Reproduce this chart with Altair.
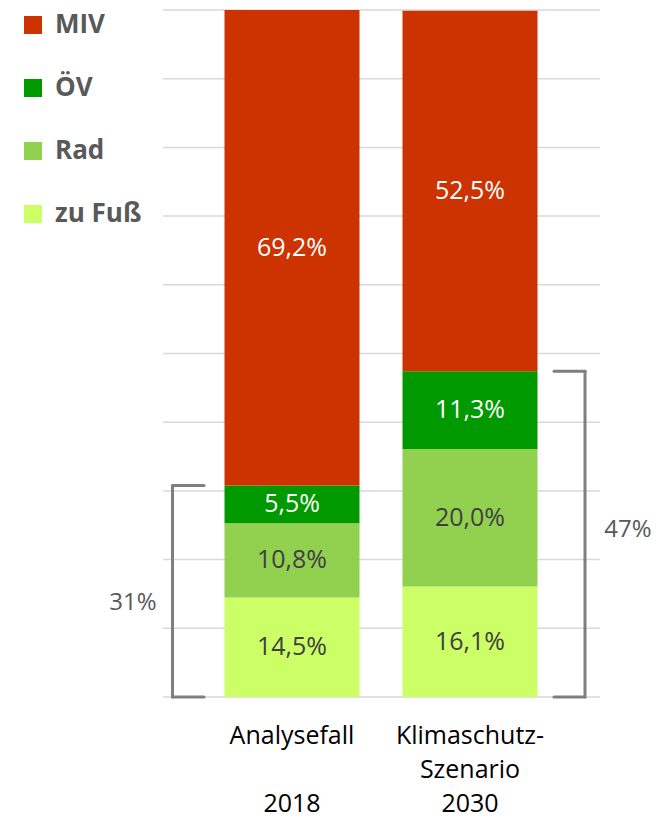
import altair as alt
import pandas as pd

# ---------------- data ----------------
categories = ["Analysefall 2018", "Klimaschutz-Szenario 2030"]
x_label_lines = [["Analysefall", "", "2018"], ["Klimaschutz-", "Szenario", "2030"]]
modes_bottom_up = ["zu Fuß", "Rad", "ÖV", "MIV"]
legend_order = ["MIV", "ÖV", "Rad", "zu Fuß"]
mode_colors = ["#CC3300", "#009900", "#92D050", "#CCFF66"]
shares_2018 = [14.5, 10.8, 5.5, 69.2]
shares_2030 = [16.1, 20.0, 11.3, 52.5]
text_colors = {"zu Fuß": "#404040", "Rad": "#404040", "ÖV": "#FFFFFF", "MIV": "#FFFFFF"}
bracket_labels = ["31%", "47%"]
grid_values = [0, 10, 20, 30, 40, 50, 60, 70, 80, 90, 100]

# ---------------- tables ----------------
rows = []
bracket_rows = []
for cat, vals in zip(categories, [shares_2018, shares_2030]):
    base = 0.0
    for mode, v in zip(modes_bottom_up, vals):
        rows.append({
            "cat": cat, "mode": mode, "y0": base, "y1": base + v,
            "mid": base + v / 2,
            "label": f"{v:.1f}".replace(".", ",") + "%",
            "tcolor": text_colors[mode],
        })
        base += v
    eco = sum(vals[:3])
    bracket_rows.append({"cat": cat, "total": eco, "half": eco / 2, "zero": 0.0})
for r, lab in zip(bracket_rows, bracket_labels):
    r["label"] = lab

df = pd.DataFrame(rows)
bdf = pd.DataFrame(bracket_rows)
gdf = pd.DataFrame({"v": grid_values})
xrows = []
for cat, lines in zip(categories, x_label_lines):
    for i, t in enumerate(lines):
        xrows.append({"cat": cat, "line": i, "txt": t})
xdf = pd.DataFrame(xrows)

# ---------------- scales ----------------
x_scale = alt.Scale(domain=categories, range=[216.5, 529.5],
                    paddingInner=0.2416, paddingOuter=0)
y_scale = alt.Scale(domain=[0, 100], range=[689, 2], nice=False, zero=False)

X = alt.X("cat:N", scale=x_scale, axis=None)

grid = alt.Chart(gdf).mark_rule(color="#D9D9D9", strokeWidth=1.5).encode(
    y=alt.Y("v:Q", scale=y_scale, axis=None),
    x=alt.value(155), x2=alt.value(592),
)

bars = alt.Chart(df).mark_bar().encode(
    x=X,
    y=alt.Y("y0:Q", scale=y_scale, axis=None),
    y2="y1:Q",
    color=alt.Color("mode:N",
                    scale=alt.Scale(domain=legend_order, range=mode_colors),
                    legend=alt.Legend(title=None, orient="none", legendX=12, legendY=4,
                                      symbolType="square", symbolSize=324,
                                      symbolStrokeWidth=0, symbolOpacity=1,
                                      labelFont="Open Sans", labelFontSize=26,
                                      labelFontWeight="bold", labelColor="#595959",
                                      labelOffset=9, rowPadding=37, padding=0)),
)

labels = alt.Chart(df).mark_text(font="Open Sans", fontSize=25, baseline="middle").encode(
    x=X,
    y=alt.Y("mid:Q", scale=y_scale, axis=None),
    text="label:N",
    color=alt.Color("tcolor:N", scale=None),
)

bstyle = dict(color="#7F7F7F", strokeWidth=3, strokeCap="round")

def bracket(cat, xv, xt, lx, dy):
    src = alt.Chart(bdf).transform_filter(alt.datum.cat == cat)
    vert = src.mark_rule(**bstyle).encode(
        x=alt.value(xv), y=alt.Y("total:Q", scale=y_scale, axis=None), y2="zero:Q")
    top = src.mark_rule(**bstyle).encode(
        x=alt.value(xv), x2=alt.value(xt), y=alt.Y("total:Q", scale=y_scale, axis=None))
    bot = src.mark_rule(**bstyle).encode(
        x=alt.value(xv), x2=alt.value(xt), y=alt.Y("zero:Q", scale=y_scale, axis=None))
    txt = src.mark_text(font="Open Sans", fontSize=24, color="#595959",
                        baseline="middle", dy=dy).encode(
        x=alt.value(lx), y=alt.Y("half:Q", scale=y_scale, axis=None), text="label:N")
    return vert + top + bot + txt

left_b = bracket(categories[0], 164.5, 196, 125, 12)
right_b = bracket(categories[1], 577, 546, 620, -4)

line_baselines = [736, 770, 804]
xtext_layers = []
for i, yb in enumerate(line_baselines):
    xtext_layers.append(
        alt.Chart(xdf).transform_filter(alt.datum.line == i)
        .mark_text(font="Open Sans", fontSize=25, color="#000000", baseline="alphabetic")
        .encode(x=X, y=alt.value(yb), text="txt:N")
    )

chart = alt.layer(grid, bars, labels, left_b, right_b, *xtext_layers).properties(
    width=650, height=809, autosize="none", padding=0
).configure_view(stroke=None)

chart.save("out.html", embed_options={"renderer": "svg", "actions": False})
